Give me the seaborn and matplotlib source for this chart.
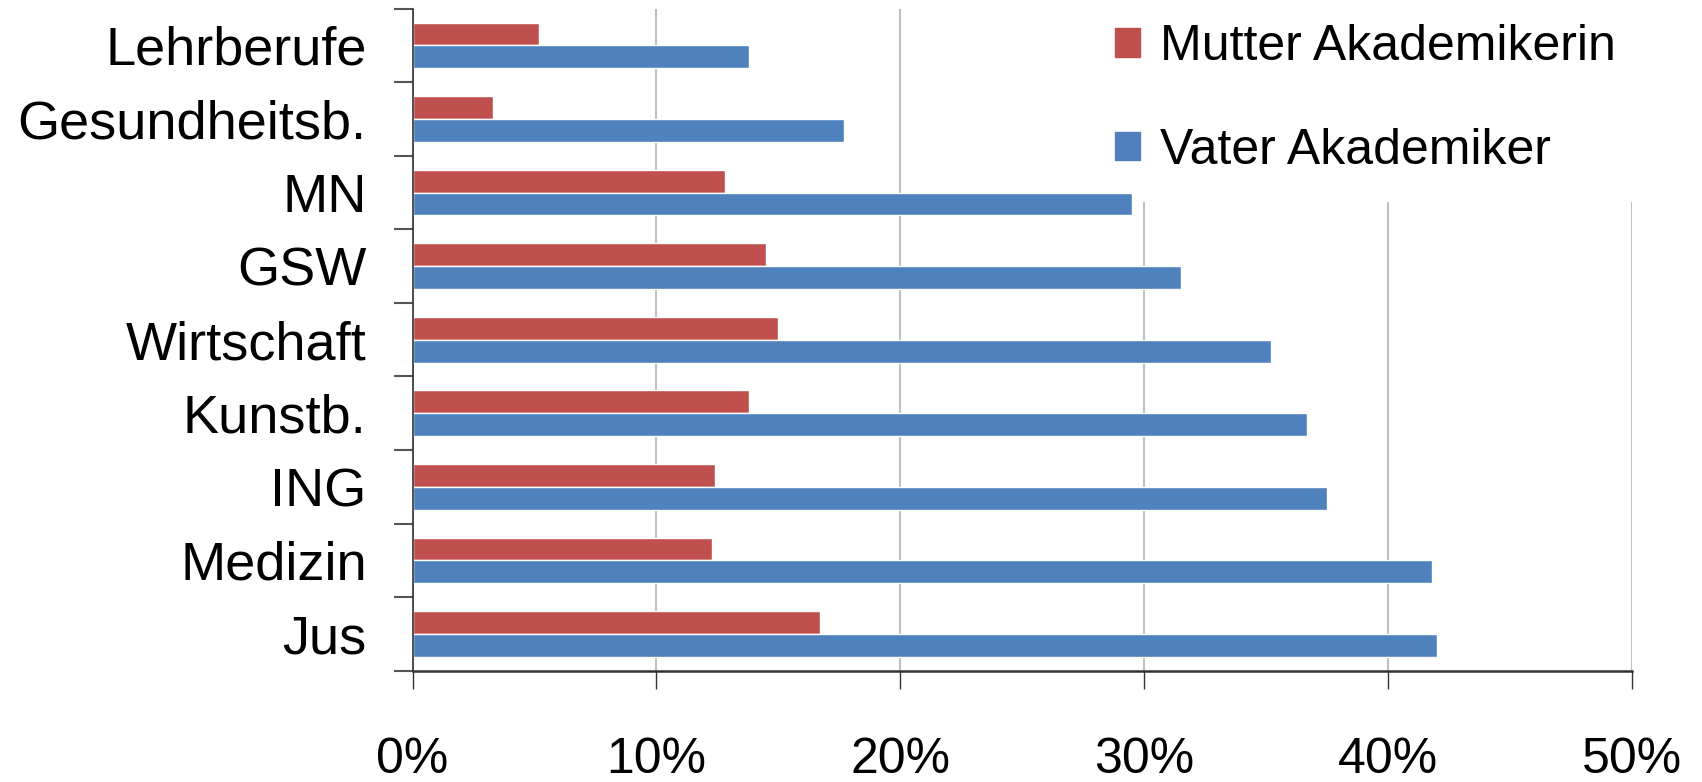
import pandas as pd
import numpy as np
import matplotlib
matplotlib.use("Agg")
import matplotlib.pyplot as plt
import seaborn as sns

# Anteil der Studierenden mit akademischen Eltern (in %)
faecher = ["Lehrberufe", "Gesundheitsb.", "MN", "GSW", "Wirtschaft",
           "Kunstb.", "ING", "Medizin", "Jus"]
mutter = [5.2, 3.3, 12.8, 14.5, 15.0, 13.8, 12.4, 12.3, 16.7]
vater = [13.8, 17.7, 29.5, 31.5, 35.2, 36.7, 37.5, 41.8, 42.0]
serien = ["Mutter Akademikerin", "Vater Akademiker"]
farben = ["#C0504D", "#4F81BD"]
xticks = [0, 10, 20, 30, 40, 50]

df = pd.DataFrame({
    "Fach": faecher * 2,
    "Anteil": mutter + vater,
    "Elternteil": [serien[0]] * len(faecher) + [serien[1]] * len(faecher),
})

sns.set_style("white")
plt.rcParams['font.family'] = ['Liberation Sans', 'DejaVu Sans']
plt.rcParams['text.color'] = 'black'
plt.rcParams['xtick.color'] = 'black'
plt.rcParams['ytick.color'] = 'black'

fig = plt.figure(figsize=(17.02, 7.82), dpi=100)
ax = fig.add_axes([0.2424, 0.1422, 0.9586 - 0.2424, 0.989 - 0.1422])

sns.barplot(data=df, y="Fach", x="Anteil", hue="Elternteil", hue_order=serien,
            palette=farben, orient="h", width=0.62, gap=0, saturation=1,
            ax=ax, legend=True, zorder=2)

ax.set_xlim(0, 50)
ax.set_ylim(len(faecher) - 0.5, -0.5)
ax.set_xticks(xticks)
ax.set_xticklabels([f"{t}%" for t in xticks], fontsize=36)
ax.set_xlabel("")
ax.set_ylabel("")

# Kategorie-Trennstriche als Minor-Ticks
ax.set_yticks(np.arange(-0.5, len(faecher), 1.0), minor=True)
ax.tick_params(axis="y", which="major", length=0, pad=33, labelsize=39)
ax.tick_params(axis="y", which="minor", length=14, width=1.5, color="#555555",
               direction="out", left=True)
ax.tick_params(axis="x", which="major", length=13, width=1, color="#333333",
               direction="out", pad=35, bottom=True)

ax.grid(axis="x", color="#BFBFBF", linewidth=1.5, zorder=0)
ax.set_axisbelow(True)
for s in ["top", "right"]:
    ax.spines[s].set_visible(False)
ax.spines["left"].set_color("#333333")
ax.spines["left"].set_linewidth(1.2)
ax.spines["bottom"].set_color("#333333")
ax.spines["bottom"].set_linewidth(1.8)

# Legende: weisser Kasten ueber den Gitterlinien, aber unter den Balken
ax.legend_.remove()
handles = [plt.Rectangle((0, 0), 1, 1, color=c) for c in farben]
leg = ax.legend(handles, serien, loc="upper left",
                bbox_to_anchor=(0.624, 1.036), bbox_transform=fig.transFigure,
                fontsize=36, frameon=True, facecolor="white", edgecolor="white",
                framealpha=1, handlelength=0.5, handleheight=0.5,
                handletextpad=0.4, labelspacing=1.15, borderpad=0.55,
                fancybox=False)
leg.set_zorder(1)
leg.set_clip_on(False)

fig.savefig("out.png", dpi=100)
